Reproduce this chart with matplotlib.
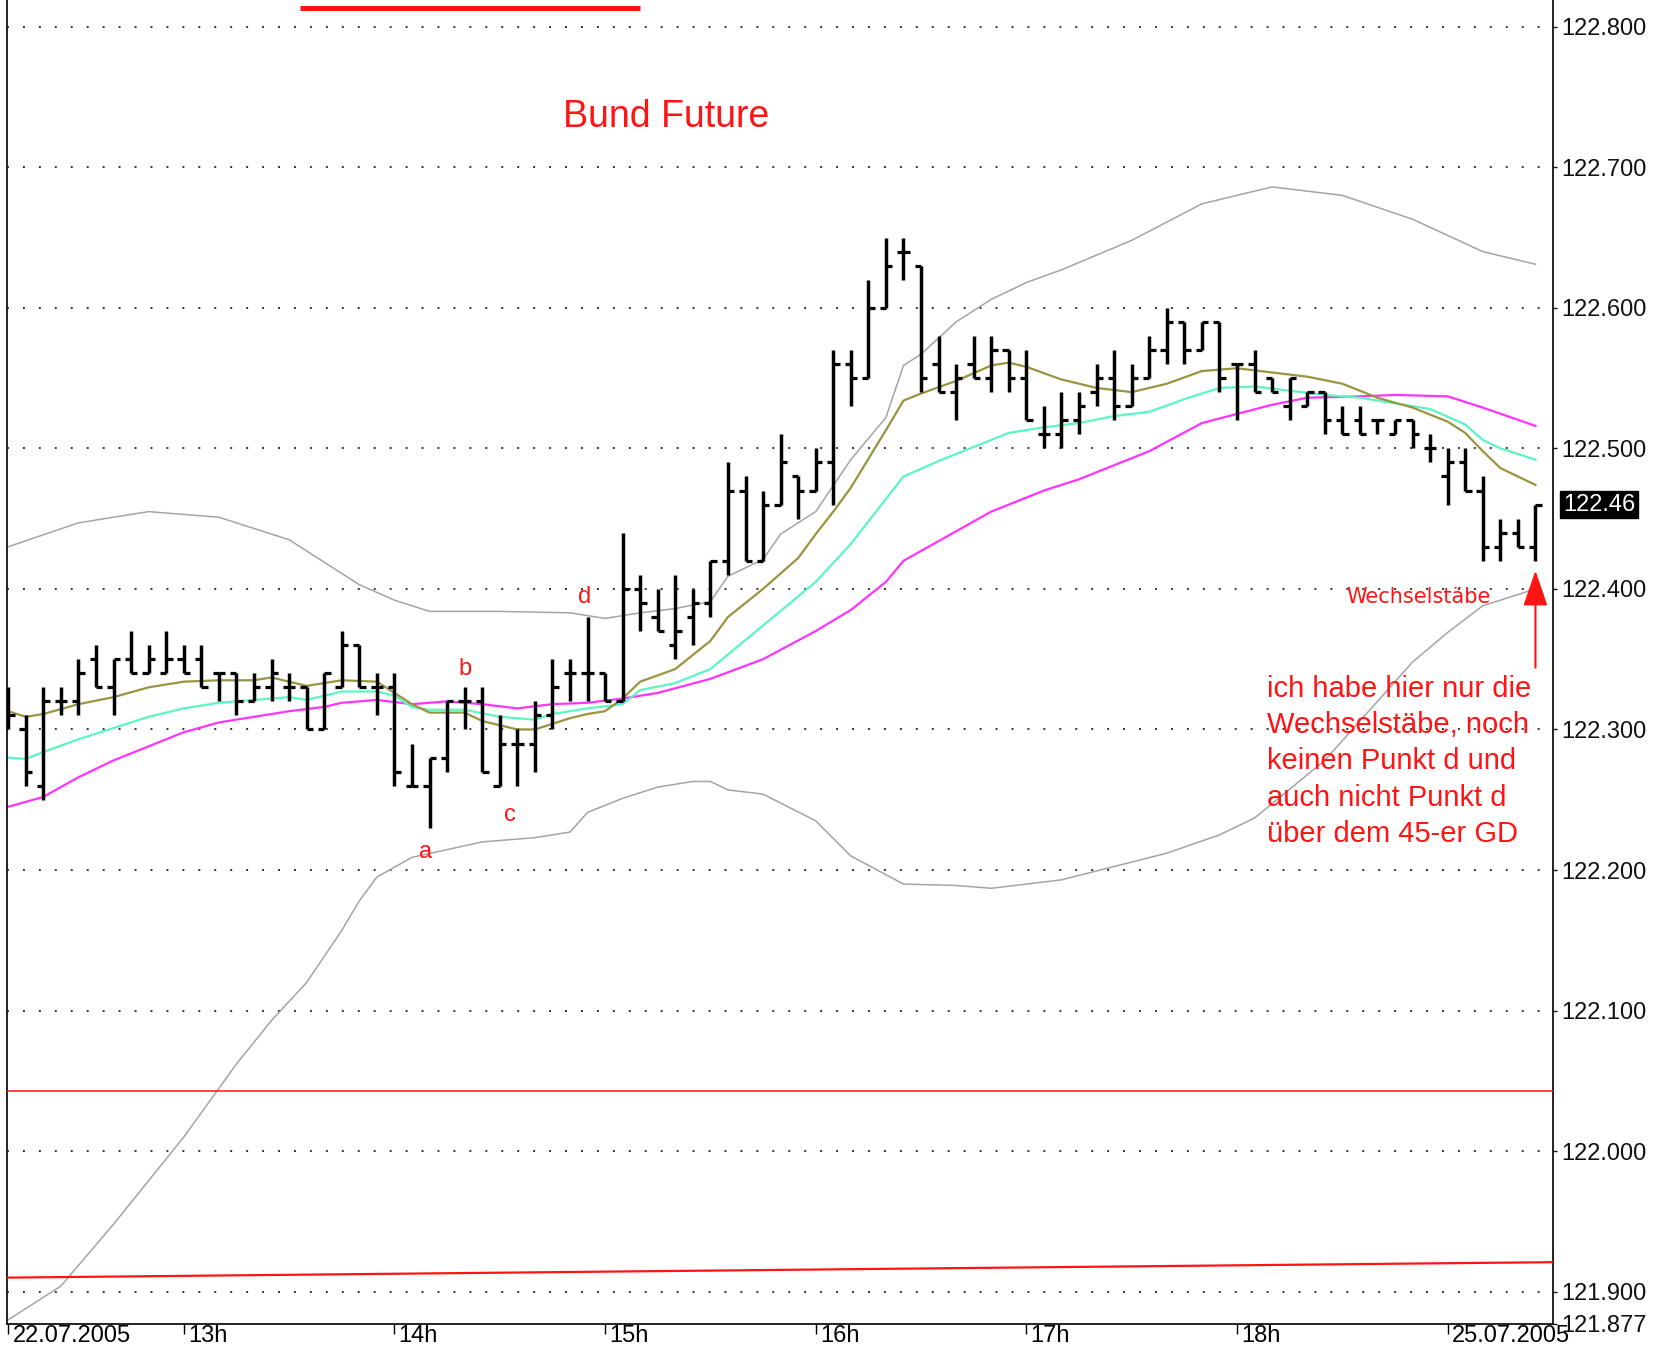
import matplotlib
matplotlib.use("Agg")
import matplotlib.pyplot as plt
from matplotlib.transforms import ScaledTranslation, blended_transform_factory

# 5 minute bars, 22.07.2005 12:10 -> 25.07.2005
bar_open = [122.32, 122.30, 122.26, 122.32, 122.32, 122.35, 122.33, 122.35, 122.34, 122.34,
            122.35, 122.35, 122.34, 122.34, 122.32, 122.33, 122.33, 122.33, 122.30, 122.33,
            122.36, 122.33, 122.33, 122.26, 122.26, 122.28, 122.32, 122.32, 122.26, 122.29,
            122.29, 122.31, 122.34, 122.34, 122.34, 122.32, 122.40, 122.38, 122.36, 122.38,
            122.39, 122.42, 122.47, 122.42, 122.46, 122.48, 122.47, 122.49, 122.56, 122.55,
            122.60, 122.64, 122.63, 122.56, 122.54, 122.56, 122.55, 122.57, 122.55, 122.51,
            122.51, 122.52, 122.54, 122.55, 122.53, 122.55, 122.57, 122.59, 122.57, 122.59,
            122.56, 122.56, 122.55, 122.53, 122.53, 122.54, 122.52, 122.52, 122.52, 122.51,
            122.52, 122.50, 122.48, 122.49, 122.47, 122.43, 122.44, 122.43]
bar_high = [122.33, 122.31, 122.33, 122.33, 122.35, 122.36, 122.35, 122.37, 122.36, 122.37,
            122.36, 122.36, 122.34, 122.34, 122.34, 122.35, 122.34, 122.33, 122.34, 122.37,
            122.36, 122.34, 122.34, 122.29, 122.28, 122.32, 122.33, 122.33, 122.31, 122.30,
            122.32, 122.35, 122.35, 122.38, 122.34, 122.44, 122.41, 122.40, 122.41, 122.40,
            122.42, 122.49, 122.48, 122.47, 122.51, 122.48, 122.50, 122.57, 122.57, 122.62,
            122.65, 122.65, 122.63, 122.58, 122.56, 122.58, 122.58, 122.57, 122.57, 122.53,
            122.54, 122.54, 122.56, 122.57, 122.56, 122.58, 122.60, 122.59, 122.59, 122.59,
            122.56, 122.57, 122.55, 122.55, 122.54, 122.54, 122.53, 122.53, 122.52, 122.52,
            122.52, 122.51, 122.50, 122.50, 122.48, 122.45, 122.45, 122.46]
bar_low = [122.30, 122.26, 122.25, 122.31, 122.31, 122.33, 122.31, 122.34, 122.34, 122.34,
           122.34, 122.33, 122.32, 122.31, 122.32, 122.32, 122.32, 122.30, 122.30, 122.33,
           122.33, 122.31, 122.26, 122.26, 122.23, 122.27, 122.30, 122.27, 122.26, 122.26,
           122.27, 122.30, 122.32, 122.32, 122.32, 122.32, 122.37, 122.37, 122.35, 122.36,
           122.38, 122.41, 122.42, 122.42, 122.46, 122.45, 122.47, 122.46, 122.53, 122.55,
           122.60, 122.62, 122.54, 122.54, 122.52, 122.55, 122.54, 122.54, 122.52, 122.50,
           122.50, 122.51, 122.53, 122.52, 122.53, 122.55, 122.56, 122.56, 122.57, 122.54,
           122.52, 122.54, 122.54, 122.52, 122.53, 122.51, 122.51, 122.51, 122.51, 122.51,
           122.50, 122.49, 122.46, 122.47, 122.42, 122.42, 122.43, 122.42]
bar_close = [122.31, 122.27, 122.32, 122.32, 122.34, 122.33, 122.35, 122.34, 122.35, 122.35,
             122.34, 122.33, 122.34, 122.32, 122.33, 122.34, 122.33, 122.30, 122.34, 122.36,
             122.33, 122.33, 122.27, 122.26, 122.28, 122.32, 122.32, 122.27, 122.29, 122.29,
             122.31, 122.33, 122.34, 122.34, 122.32, 122.40, 122.39, 122.37, 122.37, 122.39,
             122.42, 122.47, 122.42, 122.46, 122.49, 122.47, 122.49, 122.56, 122.55, 122.60,
             122.63, 122.64, 122.55, 122.54, 122.55, 122.55, 122.57, 122.55, 122.52, 122.51,
             122.52, 122.53, 122.55, 122.53, 122.55, 122.57, 122.59, 122.57, 122.59, 122.55,
             122.56, 122.54, 122.54, 122.55, 122.54, 122.52, 122.51, 122.51, 122.52, 122.52,
             122.51, 122.50, 122.49, 122.47, 122.43, 122.44, 122.43, 122.46]

ma_fast_x = [0, 1, 2, 4, 6, 8, 10, 12, 14, 15, 17, 19, 21, 22, 23, 24, 26, 27, 29, 30,
             31, 32, 33, 34, 35, 36, 38, 39, 40, 41, 43, 45, 46, 47, 48, 50, 51, 52, 54, 56,
             57, 58, 60, 62, 64, 66, 68, 70, 72, 74, 76, 78, 80, 82, 83, 84, 85, 87]
ma_fast_y = [122.313, 122.309, 122.311, 122.318, 122.323, 122.330, 122.334, 122.335, 122.335, 122.337,
             122.331, 122.335, 122.334, 122.326, 122.318, 122.312, 122.312, 122.306, 122.300, 122.300,
             122.304, 122.308, 122.311, 122.313, 122.322, 122.334, 122.343, 122.353, 122.363, 122.380,
             122.400, 122.422, 122.439, 122.455, 122.472, 122.513, 122.534, 122.539, 122.548, 122.559,
             122.561, 122.558, 122.549, 122.543, 122.540, 122.546, 122.555, 122.557, 122.554, 122.551,
             122.546, 122.536, 122.529, 122.519, 122.511, 122.498, 122.486, 122.474]
ma_mid_x = [0, 1, 2, 4, 6, 8, 10, 12, 14, 16, 17, 19, 21, 22, 23, 24, 26, 28, 30, 31,
            33, 35, 36, 38, 40, 43, 46, 48, 51, 53, 55, 57, 59, 61, 63, 65, 67, 69, 71, 73,
            75, 77, 79, 81, 83, 84, 85, 87]
ma_mid_y = [122.280, 122.279, 122.284, 122.293, 122.301, 122.309, 122.315, 122.319, 122.321, 122.323,
            122.321, 122.327, 122.327, 122.324, 122.316, 122.314, 122.314, 122.309, 122.307, 122.311,
            122.315, 122.318, 122.328, 122.333, 122.343, 122.374, 122.405, 122.432, 122.480, 122.491,
            122.501, 122.511, 122.515, 122.518, 122.523, 122.526, 122.535, 122.543, 122.544, 122.541,
            122.538, 122.536, 122.532, 122.528, 122.517, 122.506, 122.500, 122.492]
ma_slow_x = [0, 2, 4, 6, 8, 10, 12, 14, 16, 18, 19, 21, 23, 25, 27, 29, 31, 33, 35, 37,
             40, 43, 46, 48, 50, 51, 53, 56, 59, 61, 65, 68, 72, 74, 77, 79, 82, 84, 87]
ma_slow_y = [122.245, 122.252, 122.266, 122.278, 122.288, 122.298, 122.305, 122.309, 122.313, 122.316,
             122.319, 122.321, 122.318, 122.320, 122.318, 122.315, 122.318, 122.319, 122.322, 122.326,
             122.336, 122.350, 122.370, 122.385, 122.405, 122.420, 122.434, 122.455, 122.470, 122.478,
             122.498, 122.518, 122.531, 122.536, 122.537, 122.538, 122.537, 122.529, 122.516]

# bollinger bands
bb_up_x = [0, 4, 8, 12, 16, 20, 22, 24, 28, 32, 34, 36, 38, 40, 41, 43, 44, 46, 48, 50,
           51, 52, 54, 56, 58, 60, 64, 68, 72, 76, 80, 84, 87]
bb_up_y = [122.430, 122.447, 122.455, 122.451, 122.435, 122.403, 122.392, 122.384, 122.384, 122.383,
           122.379, 122.383, 122.386, 122.391, 122.409, 122.421, 122.439, 122.455, 122.492, 122.522,
           122.559, 122.567, 122.590, 122.606, 122.618, 122.627, 122.648, 122.674, 122.686, 122.680,
           122.663, 122.640, 122.631]
bb_lo_x = [0, 3, 6, 10, 13, 15, 17, 19, 20, 21, 23, 27, 30, 32, 33, 35, 37, 39, 40, 41,
           43, 46, 48, 51, 54, 56, 60, 66, 69, 71, 75, 78, 80, 82, 84, 87]
bb_lo_y = [121.880, 121.904, 121.948, 122.010, 122.062, 122.093, 122.120, 122.157, 122.178, 122.195,
           122.209, 122.220, 122.223, 122.227, 122.241, 122.251, 122.259, 122.263, 122.263, 122.257,
           122.254, 122.235, 122.210, 122.190, 122.189, 122.187, 122.193, 122.212, 122.225, 122.237,
           122.278, 122.320, 122.348, 122.369, 122.388, 122.400]

time_ticks = [0, 10, 22, 34, 46, 58, 70, 82]
time_labels = ["22.07.2005", "13h", "14h", "15h", "16h", "17h", "18h", "25.07.2005"]
grid_levels = [121.9, 122.0, 122.1, 122.2, 122.3, 122.4, 122.5, 122.6, 122.7, 122.8]
y_min, y_max = 121.877, 122.819
last_price = 122.46

# hand drawn marks
support_level = 122.043
trend_x = [0, 88]
trend_y = [121.910, 121.921]
top_line_x = [16.6, 36.0]
top_line_y = [122.813, 122.813]
wave_names = ["a", "b", "c", "d"]
wave_x = [23.8, 26.0, 28.6, 32.85]
wave_y = [122.213, 122.343, 122.239, 122.394]
arrow_x = 87.0
arrow_from, arrow_to = 122.344, 122.413

RED = "#ff1414"
plt.rcParams["font.family"] = ["Liberation Sans", "DejaVu Sans"]

W, H = 1674, 1348
fig = plt.figure(figsize=(W / 100, H / 100), dpi=100)
ax = fig.add_axes([7 / W, 24 / H, 1546 / W, 1324 / H])
ax.set_xlim(-0.07, 88.0)
ax.set_ylim(y_min, y_max)

for lvl in grid_levels:
    ax.axhline(lvl, color="#333333", lw=1.4, ls=(0, (1, 7.2)), zorder=0)

# indicators
ax.plot(bb_up_x, bb_up_y, color="#a4a4a4", lw=1.1, zorder=1)
ax.plot(bb_lo_x, bb_lo_y, color="#a4a4a4", lw=1.1, zorder=1)
ax.plot(ma_slow_x, ma_slow_y, color="#ff33ff", lw=1.6, zorder=2)
ax.plot(ma_mid_x, ma_mid_y, color="#5cf5c4", lw=1.6, zorder=2)
ax.plot(ma_fast_x, ma_fast_y, color="#9a9440", lw=1.6, zorder=2)

# ohlc bars
xs = list(range(len(bar_open)))
tick = 0.36
ax.vlines(xs, bar_low, bar_high, color="black", lw=2.5, zorder=4)
ax.hlines(bar_open, [x - tick for x in xs], xs, color="black", lw=2.3, zorder=4)
ax.hlines(bar_close, xs, [x + tick for x in xs], color="black", lw=2.3, zorder=4)

# drawings
ax.axhline(support_level, color=RED, lw=1.1, zorder=3)
ax.plot(trend_x, trend_y, color=RED, lw=1.6, zorder=3)
ax.plot(top_line_x, top_line_y, color=RED, lw=3.6, solid_capstyle="butt", zorder=3, clip_on=False)

ax.text(37.5, 122.736, "Bund Future", color=RED, fontsize=27, ha="center", va="center")
for name, x, y in zip(wave_names, wave_x, wave_y):
    ax.text(x, y, name, color=RED, fontsize=17, ha="center", va="center", zorder=5)

ax.text(80.35, 122.394, "Wechselstäbe", color=RED, fontsize=15,
        family="DejaVu Sans", ha="center", va="center", zorder=5)
ax.text(71.7, 122.339,
        "ich habe hier nur die\nWechselstäbe, noch\nkeinen Punkt d und\nauch nicht Punkt d\nüber dem 45-er GD",
        color=RED, fontsize=21, ha="left", va="top", linespacing=1.38, zorder=5)
ax.annotate("", xy=(arrow_x, arrow_to), xytext=(arrow_x, arrow_from),
            arrowprops=dict(arrowstyle="-|>,head_length=1.1,head_width=0.38", color=RED,
                            lw=1.5, mutation_scale=20, shrinkA=0, shrinkB=0), zorder=5)

# axes
ax.spines["top"].set_visible(False)
for side in ["left", "right", "bottom"]:
    ax.spines[side].set_color("#111111")
    ax.spines[side].set_linewidth(1.3)

ax.yaxis.tick_right()
ax.set_yticks([y_min] + grid_levels)
ax.set_yticklabels([f"{v:.3f}" for v in [y_min] + grid_levels])
ax.tick_params(axis="y", length=3, width=1, pad=3, labelsize=17, colors="#111111")

ax.set_xticks(time_ticks)
ax.set_xticklabels(time_labels)
ax.tick_params(axis="x", length=7, width=1, pad=-6.5, labelsize=17, direction="out")
offset = ScaledTranslation(3 / 72, 0, fig.dpi_scale_trans)
for lab in ax.get_xticklabels():
    lab.set_horizontalalignment("left")
    lab.set_transform(lab.get_transform() + offset)

ax.text(1.0 + 10 / 1546, last_price, f"{last_price:.2f}", color="white", fontsize=17,
        ha="left", va="center", transform=blended_transform_factory(ax.transAxes, ax.transData),
        bbox=dict(boxstyle="square,pad=0.12", facecolor="black", edgecolor="black"))

fig.savefig("out.png", dpi=100, facecolor="white")
